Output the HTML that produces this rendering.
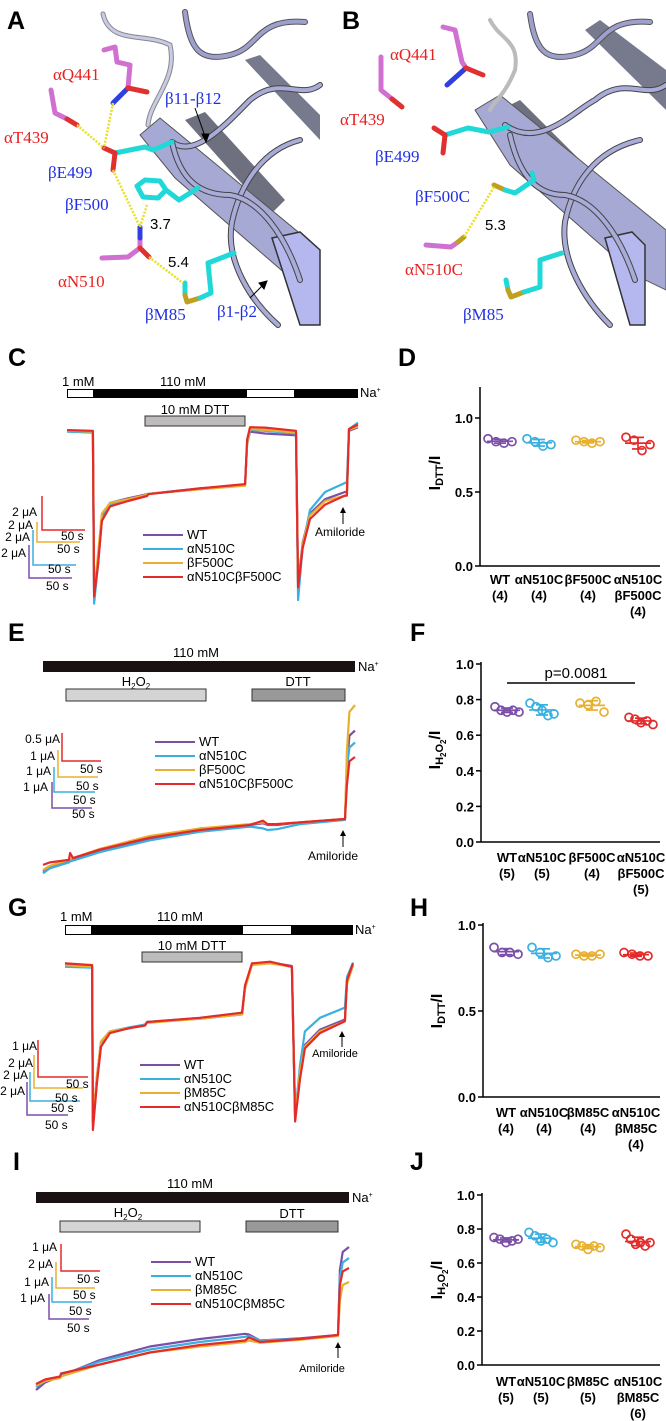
<!DOCTYPE html>
<html><head><meta charset="utf-8"><style>
body{margin:0;background:#fff}
svg{display:block}
text{font-family:"Liberation Sans",Arial,sans-serif}
.ser{font-family:"Liberation Serif",serif;font-size:17px}
.lbl{font-size:13px}
.pl{font-weight:bold;font-size:25px}
.tk{font-weight:bold;font-size:13px}
</style></head><body>
<svg id="fig" width="666" height="1421" viewBox="0 0 666 1421" xmlns="http://www.w3.org/2000/svg">
<!-- Panel A structure -->
<g>
<polygon points="185,120 205,112 285,200 270,215" fill="#6e7080"/>
<polygon points="245,60 260,55 320,115 320,140" fill="#777a8c"/>
<polygon points="140,135 160,118 320,250 320,295 295,282 175,178" fill="#a6a9d4" stroke="#555" stroke-width="1"/>
<polygon points="272,238 300,232 320,250 320,325 300,325" fill="#b5b8ee" stroke="#333" stroke-width="1.5"/>
<g fill="none" stroke-linecap="round">
<path d="M185 12 C190 50 200 62 230 55 S255 18 305 22" stroke="#555" stroke-width="6"/>
<path d="M185 12 C190 50 200 62 230 55 S255 18 305 22" stroke="#9da0cc" stroke-width="4"/>
<path d="M103 14 C110 45 145 32 170 45 C178 80 150 100 148 125" stroke="#888" stroke-width="5"/>
<path d="M103 14 C110 45 145 32 170 45 C178 80 150 100 148 125" stroke="#c8cae6" stroke-width="3"/>
<path d="M172 142 C195 160 230 120 250 100 C280 75 300 100 320 85" stroke="#444" stroke-width="6"/>
<path d="M172 142 C195 160 230 120 250 100 C280 75 300 100 320 85" stroke="#a9abd8" stroke-width="4"/>
<path d="M278 325 C250 300 225 260 232 222 C240 185 262 150 300 140" stroke="#444" stroke-width="6"/>
<path d="M278 325 C250 300 225 260 232 222 C240 185 262 150 300 140" stroke="#a9abd8" stroke-width="4"/>
<path d="M172 142 C180 180 200 195 230 195 C260 200 285 235 300 280" stroke="#444" stroke-width="6"/>
<path d="M172 142 C180 180 200 195 230 195 C260 200 285 235 300 280" stroke="#a9abd8" stroke-width="4"/>
</g>
<g fill="none" stroke-linecap="round" stroke-linejoin="round" stroke-width="5">
<polyline points="104,50 115,47 117,62 130,65 128,88" stroke="#d070d0"/>
<line x1="128" y1="88" x2="113" y2="103" stroke="#3040e0"/>
<line x1="128" y1="88" x2="147" y2="92" stroke="#e03030"/>
<polyline points="51,90 55,113 67,119" stroke="#d070d0"/>
<line x1="67" y1="119" x2="77" y2="125" stroke="#e03030"/>
<polyline points="115,153 145,147 153,150 172,142" stroke="#20d8d8"/>
<line x1="115" y1="153" x2="104" y2="148" stroke="#e03030"/>
<line x1="115" y1="153" x2="113" y2="170" stroke="#e03030"/>
<polygon points="137,186 145,180 160,181 166,190 158,198 143,197" stroke="#20d8d8"/>
<polyline points="166,190 179,200 198,188" stroke="#20d8d8"/>
<polyline points="102,258 128,257 140,248 140,238" stroke="#d070d0"/>
<line x1="140" y1="238" x2="140" y2="227" stroke="#3040e0"/>
<line x1="140" y1="248" x2="149" y2="257" stroke="#e03030"/>
<polyline points="185,283 185,295" stroke="#20d8d8"/>
<polyline points="185,295 187,302 200,298" stroke="#c0a020"/>
<polyline points="200,298 211,293 208,263 234,253" stroke="#20d8d8"/>
</g>
<g stroke="#e8e020" stroke-width="2.5" stroke-dasharray="2,1.5">
<line x1="113" y1="103" x2="104" y2="148"/><line x1="77" y1="125" x2="104" y2="148"/>
<line x1="113" y1="170" x2="140" y2="227"/><line x1="147" y1="205" x2="140" y2="227"/>
<line x1="149" y1="257" x2="183" y2="283"/>
</g>
<g stroke="#000" stroke-width="1">
<line x1="195" y1="108" x2="206" y2="139"/><polygon points="206,142 202,134 209,134" fill="#000"/>
<line x1="250" y1="298" x2="265" y2="283"/><polygon points="267,281 259,283 264,289" fill="#000"/>
</g>
<text x="7" y="29" class="pl">A</text>
<text x="53" y="80" class="ser" fill="#e82020">αQ441</text>
<text x="4" y="143" class="ser" fill="#e82020">αT439</text>
<text x="48" y="178" class="ser" fill="#2030e0">βE499</text>
<text x="65" y="210" class="ser" fill="#2030e0">βF500</text>
<text x="150" y="229" fill="#000" style="font-size:15px">3.7</text>
<text x="58" y="287" class="ser" fill="#e82020">αN510</text>
<text x="168" y="267" fill="#000" style="font-size:15px">5.4</text>
<text x="145" y="320" class="ser" fill="#2030e0">βM85</text>
<text x="217" y="317" class="ser" fill="#2030e0">β1-β2</text>
<text x="165" y="104" class="ser" fill="#2030e0">β11-β12</text>
</g>
<!-- Panel B structure -->
<g>
<polygon points="500,110 520,100 610,190 590,205" fill="#6e7080"/>
<polygon points="585,30 600,20 666,70 666,110" fill="#777a8c"/>
<polygon points="475,110 500,95 666,230 666,290 635,275 510,165" fill="#a6a9d4" stroke="#555" stroke-width="1"/>
<polygon points="605,238 632,232 645,245 645,325 630,325" fill="#b5b8ee" stroke="#333" stroke-width="1.5"/>
<g fill="none" stroke-linecap="round">
<path d="M530 14 C535 50 545 62 575 55 S600 18 650 22" stroke="#555" stroke-width="6"/>
<path d="M530 14 C535 50 545 62 575 55 S600 18 650 22" stroke="#9da0cc" stroke-width="4"/>
<path d="M505 125 C540 150 575 110 595 100 C625 75 645 100 666 85" stroke="#444" stroke-width="6"/>
<path d="M505 125 C540 150 575 110 595 100 C625 75 645 100 666 85" stroke="#a9abd8" stroke-width="4"/>
<path d="M610 325 C585 300 560 260 565 222 C572 185 595 150 640 140" stroke="#444" stroke-width="6"/>
<path d="M610 325 C585 300 560 260 565 222 C572 185 595 150 640 140" stroke="#a9abd8" stroke-width="4"/>
<path d="M510 135 C520 180 540 195 565 195 C595 200 620 235 635 280" stroke="#444" stroke-width="6"/>
<path d="M510 135 C520 180 540 195 565 195 C595 200 620 235 635 280" stroke="#a9abd8" stroke-width="4"/>
<path d="M490 20 C500 40 520 40 515 70 C505 95 495 100 490 110" stroke="#bbb" stroke-width="4"/>
</g>
<g fill="none" stroke-linecap="round" stroke-linejoin="round" stroke-width="5">
<polyline points="443,27 455,30 462,62 466,68" stroke="#d070d0"/>
<line x1="466" y1="68" x2="447" y2="85" stroke="#3040e0"/>
<line x1="466" y1="68" x2="483" y2="75" stroke="#e03030"/>
<polyline points="381,57 381,90 392,99" stroke="#d070d0"/>
<line x1="392" y1="99" x2="402" y2="107" stroke="#e03030"/>
<polyline points="445,135 468,128 489,132 508,127" stroke="#20d8d8"/>
<line x1="445" y1="135" x2="434" y2="128" stroke="#e03030"/>
<line x1="445" y1="135" x2="443" y2="153" stroke="#e03030"/>
<polyline points="494,185 505,190" stroke="#c0a020"/>
<polyline points="505,190 515,193 534,180 532,173" stroke="#20d8d8"/>
<polyline points="426,245 451,247 458,242" stroke="#d070d0"/>
<line x1="458" y1="242" x2="464" y2="237" stroke="#c0a020"/>
<polyline points="506,280 508,290" stroke="#20d8d8"/>
<polyline points="508,290 511,297 524,292" stroke="#c0a020"/>
<polyline points="524,292 540,287 540,260 562,253" stroke="#20d8d8"/>
</g>
<line x1="494" y1="187" x2="464" y2="237" stroke="#e8e020" stroke-width="2.5" stroke-dasharray="2,1.5"/>
<text x="342" y="29" class="pl">B</text>
<text x="390" y="60" class="ser" fill="#e82020">αQ441</text>
<text x="340" y="125" class="ser" fill="#e82020">αT439</text>
<text x="375" y="162" class="ser" fill="#2030e0">βE499</text>
<text x="415" y="202" class="ser" fill="#2030e0">βF500C</text>
<text x="485" y="230" fill="#000" style="font-size:15px">5.3</text>
<text x="405" y="275" class="ser" fill="#e82020">αN510C</text>
<text x="463" y="320" class="ser" fill="#2030e0">βM85</text>
</g>

<!-- Panel C static -->
<g>
<text x="8" y="366" class="pl">C</text>
<rect x="67" y="389" width="291" height="9" fill="#000"/>
<rect x="68" y="390" width="25" height="7" fill="#fff"/>
<rect x="247" y="390" width="47" height="7" fill="#fff"/>
<text x="62" y="386" class="lbl">1 mM</text>
<text x="160" y="386" class="lbl">110 mM</text>
<text x="360" y="397" class="lbl">Na<tspan font-size="7" dy="-5">+</tspan></text>
<rect x="145" y="416" width="100" height="10" fill="#bdbbbb" stroke="#333"/>
<text x="195" y="414" class="lbl" text-anchor="middle">10 mM DTT</text>
<g stroke-width="1.5" fill="none">
<polyline points="42,496 42,530 85,530" stroke="#e52a2a"/><polyline points="37,522 37,542 80,542" stroke="#e8b030"/>
<polyline points="33,530 33,565 76,565" stroke="#3ab0e0"/><polyline points="29,545 29,578 72,578" stroke="#7b4fa8"/>
</g>
<g font-size="12">
<text x="37" y="516" text-anchor="end">2 μA</text><text x="33" y="529" text-anchor="end">2 μA</text>
<text x="30" y="541" text-anchor="end">2 μA</text><text x="26" y="557" text-anchor="end">2 μA</text>
<text x="61" y="540">50 s</text><text x="57" y="553">50 s</text><text x="48" y="573">50 s</text><text x="46" y="590">50 s</text>
</g>
<g><line x1="343" y1="524" x2="343" y2="510" stroke="#000"/><polygon points="343,507 340,513 346,513"/><text x="340" y="536" font-size="12" text-anchor="middle">Amiloride</text></g>
</g>
<!-- Panel E static -->
<g>
<text x="8" y="641" class="pl">E</text>
<rect x="43" y="661" width="312" height="11" fill="#1a1212"/>
<text x="196" y="657" class="lbl" text-anchor="middle">110 mM</text>
<text x="358" y="671" class="lbl">Na<tspan font-size="7" dy="-5">+</tspan></text>
<rect x="66" y="689" width="140" height="12" fill="#d4d4d4" stroke="#333"/>
<rect x="252" y="689" width="93" height="12" fill="#999" stroke="#333"/>
<text x="136" y="686" class="lbl" text-anchor="middle">H<tspan font-size="8" dy="3">2</tspan><tspan dy="-3">O</tspan><tspan font-size="8" dy="3">2</tspan></text>
<text x="298" y="686" class="lbl" text-anchor="middle">DTT</text>
<g stroke-width="1.5" fill="none">
<polyline points="62,733 62,761 101,761" stroke="#e52a2a"/><polyline points="58,750 58,777 98,777" stroke="#e8b030"/>
<polyline points="54,767 54,792 95,792" stroke="#3ab0e0"/><polyline points="52,782 52,808 92,808" stroke="#7b4fa8"/>
</g>
<g font-size="12">
<text x="60" y="743" text-anchor="end">0.5 μA</text><text x="55" y="760" text-anchor="end">1 μA</text>
<text x="51" y="775" text-anchor="end">1 μA</text><text x="48" y="791" text-anchor="end">1 μA</text>
<text x="80" y="773">50 s</text><text x="76" y="790">50 s</text><text x="73" y="804">50 s</text><text x="72" y="818">50 s</text>
</g>
<g><line x1="343" y1="847" x2="343" y2="833" stroke="#000"/><polygon points="343,830 340,836 346,836"/><text x="333" y="860" font-size="12" text-anchor="middle">Amiloride</text></g>
</g>
<!-- Panel G static -->
<g>
<text x="8" y="916" class="pl">G</text>
<rect x="65" y="925" width="288" height="10" fill="#000"/>
<rect x="66" y="926" width="25" height="8" fill="#fff"/>
<rect x="243" y="926" width="48" height="8" fill="#fff"/>
<text x="60" y="921" class="lbl">1 mM</text>
<text x="157" y="921" class="lbl">110 mM</text>
<text x="355" y="934" class="lbl">Na<tspan font-size="7" dy="-5">+</tspan></text>
<rect x="142" y="952" width="100" height="10" fill="#bdbbbb" stroke="#333"/>
<text x="192" y="950" class="lbl" text-anchor="middle">10 mM DTT</text>
<g stroke-width="1.5" fill="none">
<polyline points="38,1040 38,1077 88,1077" stroke="#e52a2a"/><polyline points="34,1055 34,1088 83,1088" stroke="#e8b030"/>
<polyline points="30,1072 30,1101 80,1101" stroke="#3ab0e0"/><polyline points="27,1082 27,1115 68,1115" stroke="#7b4fa8"/>
</g>
<g font-size="12">
<text x="37" y="1050" text-anchor="end">1 μA</text><text x="33" y="1067" text-anchor="end">2 μA</text>
<text x="28" y="1079" text-anchor="end">2 μA</text><text x="25" y="1095" text-anchor="end">2 μA</text>
<text x="66" y="1088">50 s</text><text x="55" y="1102">50 s</text><text x="51" y="1112">50 s</text><text x="45" y="1129">50 s</text>
</g>
<g><line x1="342" y1="1047" x2="342" y2="1034" stroke="#000"/><polygon points="342,1031 339,1037 345,1037"/><text x="335" y="1057" font-size="11" text-anchor="middle">Amiloride</text></g>
</g>
<!-- Panel I static -->
<g>
<text x="13" y="1170" class="pl">I</text>
<rect x="36" y="1192" width="313" height="11" fill="#1a1212"/>
<text x="190" y="1188" class="lbl" text-anchor="middle">110 mM</text>
<text x="352" y="1202" class="lbl">Na<tspan font-size="7" dy="-5">+</tspan></text>
<rect x="60" y="1221" width="140" height="11" fill="#d4d4d4" stroke="#333"/>
<rect x="246" y="1221" width="92" height="11" fill="#999" stroke="#333"/>
<text x="128" y="1217" class="lbl" text-anchor="middle">H<tspan font-size="8" dy="3">2</tspan><tspan dy="-3">O</tspan><tspan font-size="8" dy="3">2</tspan></text>
<text x="292" y="1218" class="lbl" text-anchor="middle">DTT</text>
<g stroke-width="1.5" fill="none">
<polyline points="61,1244 61,1271 100,1271" stroke="#e52a2a"/><polyline points="56,1262 56,1288 95,1288" stroke="#e8b030"/>
<polyline points="52,1277 52,1302 92,1302" stroke="#3ab0e0"/><polyline points="49,1294 49,1319 89,1319" stroke="#7b4fa8"/>
</g>
<g font-size="12">
<text x="57" y="1251" text-anchor="end">1 μA</text><text x="53" y="1268" text-anchor="end">2 μA</text>
<text x="49" y="1286" text-anchor="end">1 μA</text><text x="45" y="1302" text-anchor="end">1 μA</text>
<text x="77" y="1283">50 s</text><text x="73" y="1299">50 s</text><text x="69" y="1315">50 s</text><text x="67" y="1332">50 s</text>
</g>
<g><line x1="338" y1="1358" x2="338" y2="1345" stroke="#000"/><polygon points="338,1342 335,1348 341,1348"/><text x="322" y="1372" font-size="11" text-anchor="middle">Amiloride</text></g>
</g>
<text x="398" y="366" class="pl">D</text>
<text x="410" y="641" class="pl">F</text>
<text x="410" y="916" class="pl">H</text>
<text x="410" y="1170" class="pl">J</text>
<g id="dyn"></g>
</svg>
<script>
// ===== Trace data (time in % of sweep, current as fraction of panel range) =====
const T_C=[0,8.9,9.3,10.7,12,14.8,21,27.5,28,45.7,61.2,61.9,62.9,68,78.7,79.4,81,83.5,88.7,95.5,96.2,96.9,100];
const C_WT=[.94,.935,.04,.24,.47,.54,.565,.588,.59,.62,.638,.87,.935,.925,.915,.09,.32,.48,.56,.6,.6,.94,.96];
const C_N510=[.935,.93,-.02,.2,.45,.53,.556,.583,.59,.615,.64,.86,.945,.94,.925,0,.3,.5,.6,.65,.655,.95,.985];
const C_F500=[.94,.935,.03,.26,.48,.54,.56,.585,.59,.615,.635,.87,.95,.945,.93,.07,.31,.47,.55,.58,.58,.945,.965];
const C_DBL=[.944,.94,.02,.2,.44,.52,.55,.578,.588,.62,.644,.89,.96,.958,.94,.07,.29,.45,.53,.58,.58,.95,.975];

const T_E=[0,2.2,8.3,8.7,9.6,18.3,34.3,50.3,66.3,70.5,72,75,82.4,96.8,97.4,98.2,100];
const E_WT=[-.01,.02,.05,.055,.06,.11,.185,.235,.265,.275,.265,.265,.28,.3,.6,.79,.82];
const E_N510=[-.02,.01,.045,.05,.055,.105,.175,.225,.255,.245,.235,.24,.27,.295,.6,.72,.75];
const E_F500=[0,.025,.06,.065,.07,.125,.2,.245,.27,.28,.27,.27,.28,.3,.7,.93,.97];
const E_DBL=[.03,.045,.06,.1,.07,.12,.19,.235,.265,.29,.27,.27,.28,.3,.5,.64,.665];

const T_G=[0,9.4,9.7,11.1,12.5,15.6,22.6,27.8,28.5,46.9,61.5,62.5,64.9,71.2,78.8,79.9,81.6,83.3,88.5,97.2,97.9,100];
const G_WT=[.98,.965,.05,.32,.52,.58,.6,.62,.635,.655,.68,.84,.975,.985,.965,.1,.35,.5,.59,.65,.87,.97];
const G_N510=[.96,.955,.04,.3,.5,.58,.605,.62,.635,.66,.69,.84,.975,.985,.96,.08,.38,.58,.66,.72,.9,.985];
const G_M85=[.97,.96,.05,.32,.52,.58,.6,.615,.63,.655,.68,.83,.97,.98,.96,.08,.34,.49,.58,.64,.86,.97];
const G_DBL=[.98,.97,0,.28,.49,.57,.6,.615,.635,.66,.69,.85,.98,.99,.96,.05,.3,.48,.57,.64,.88,.98];

const T_I=[0,2.9,7.7,8,20.4,36.4,52.4,66.8,68,71.6,84.3,96.5,97.1,98,100];
const I_WT=[0,.05,.09,.095,.2,.29,.34,.375,.37,.33,.345,.367,.8,.92,.953];
const I_N510=[.02,.06,.09,.1,.19,.27,.32,.355,.36,.33,.34,.365,.75,.85,.88];
const I_M85=[.03,.06,.08,.09,.17,.25,.29,.32,.33,.315,.335,.36,.6,.7,.72];
const I_DBL=[.04,.07,.09,.11,.17,.25,.3,.33,.35,.32,.34,.367,.7,.79,.813];

// ===== Scatter data =====
const D_CATS=["WT","αN510C","βF500C","αN510C βF500C"];
const D_N=["(4)","(4)","(4)","(4)"];
const D_WT=[.86,.84,.83,.84], D_N510=[.86,.84,.81,.82], D_F500=[.85,.84,.83,.84], D_DBL=[.87,.85,.78,.82];
const D_TICKS=["0.0","0.5","1.0"];
const F_CATS=["WT","αN510C","βF500C","αN510C βF500C"];
const F_N=["(5)","(5)","(4)","(5)"];
const F_WT=[.76,.74,.73,.74,.73], F_N510=[.78,.76,.74,.71,.72], F_F500=[.78,.77,.79,.73], F_DBL=[.70,.69,.67,.68,.66];
const F_TICKS=["0.0","0.2","0.4","0.6","0.8","1.0"];
const H_CATS=["WT","αN510C","βM85C","αN510C βM85C"];
const H_N=["(4)","(4)","(4)","(4)"];
const H_WT=[.87,.84,.84,.83], H_N510=[.87,.84,.81,.82], H_M85=[.83,.82,.82,.83], H_DBL=[.84,.83,.82,.82];
const H_TICKS=["0.0","0.5","1.0"];
const J_CATS=["WT","αN510C","βM85C","αN510C βM85C"];
const J_N=["(5)","(5)","(5)","(6)"];
const J_WT=[.75,.74,.72,.73,.74], J_N510=[.78,.76,.73,.74,.72], J_M85=[.71,.70,.68,.70,.69], J_DBL=[.77,.74,.71,.72,.70,.72];
const J_TICKS=["0.0","0.2","0.4","0.6","0.8","1.0"];

const COLORS=["#7b4fa8","#3ab0e0","#e8b030","#e52a2a"];
const NS="http://www.w3.org/2000/svg";
const root=document.getElementById('dyn');
function mk(tag,nm,inter,attrs,parent){
  const el=document.createElementNS(NS,tag);
  for(const k in attrs) el.setAttribute(k,attrs[k]);
  
  
  (parent||root).appendChild(el);
  return el;
}
function traces(pfx,T,series,x0,x1,yZero,ySpan,legendNames,legX,legY){
  const xs=t=>x0+(x1-x0)*t/100;
  const ys=v=>yZero-v*ySpan;
  series.forEach((vals,si)=>{
    const pts=T.map((t,i)=>xs(t).toFixed(1)+","+ys(vals[i]).toFixed(1)).join(" ");
    mk('polyline',pfx+'-trace-'+si,'false',{points:pts,fill:'none',stroke:COLORS[si],'stroke-width':2.2,'stroke-linejoin':'round'});
  });
  legendNames.forEach((n,i)=>{
    const y=legY+i*14;
    mk('line',pfx+'-legend-swatch','false',{x1:legX,x2:legX+40,y1:y,y2:y,stroke:COLORS[i],'stroke-width':2});
    const t=mk('text',pfx+'-legend-entry','false',{x:legX+44,y:y+4,'font-size':13});
    t.textContent=n;
  });
}
traces('c',T_C,[C_WT,C_N510,C_F500,C_DBL],67,358,600,180,["WT","αN510C","βF500C","αN510CβF500C"],143,535);
traces('e',T_E,[E_WT,E_N510,E_F500,E_DBL],43,355,870,170,["WT","αN510C","βF500C","αN510CβF500C"],155,742);
traces('g',T_G,[G_WT,G_N510,G_M85,G_DBL],65,353,1130,170,["WT","αN510C","βM85C","αN510CβM85C"],140,1065);
traces('i',T_I,[I_WT,I_N510,I_M85,I_DBL],36,349,1390,150,["WT","αN510C","βM85C","αN510CβM85C"],151,1262);

function scatter(pfx,cfg){
  const {ax,yTop,yBot,axTop,xEnd,ticks,cats,ns,groups,cx,labY,ylab}=cfg;
  const tMax=parseFloat(ticks[ticks.length-1]);
  const ys=v=>yBot-(v/tMax)*(yBot-yTop);
  mk('line',pfx+'-y-axis','false',{x1:ax,x2:ax,y1:axTop,y2:yBot,stroke:'#000','stroke-width':1.5});
  mk('line',pfx+'-x-axis','false',{x1:ax,x2:xEnd,y1:yBot,y2:yBot,stroke:'#000','stroke-width':1.5});
  ticks.forEach(tk=>{
    const y=ys(parseFloat(tk));
    mk('line',pfx+'-y-tick','false',{x1:ax-5,x2:ax,y1:y,y2:y,stroke:'#000','stroke-width':1.5});
    const t=mk('text',pfx+'-y-tick-label','false',{x:ax-7,y:y+5,'text-anchor':'end',class:'tk'});
    t.textContent=tk;
  });
  const yl=mk('text',pfx+'-y-axis-title','false',{x:0,y:0,'font-weight':'bold','font-size':16,'text-anchor':'middle',transform:`translate(${ylab[0]},${ylab[1]}) rotate(-90)`});
  yl.innerHTML=ylab[2];
  groups.forEach((vals,gi)=>{
    const c=cx[gi], col=COLORS[gi], n=vals.length;
    const mean=vals.reduce((a,b)=>a+b,0)/n;
    const sd=Math.sqrt(vals.reduce((a,b)=>a+(b-mean)*(b-mean),0)/(n-1));
    vals.forEach((v,i)=>{
      mk('circle',pfx+'-point-'+gi,'false',{cx:c-12+i*(24/Math.max(n-1,1)),cy:ys(v),r:4,fill:'none',stroke:col,'stroke-width':1.7});
    });
    mk('line',pfx+'-mean-'+gi,'false',{x1:c-13,x2:c+13,y1:ys(mean),y2:ys(mean),stroke:col,'stroke-width':1.7});
    mk('line',pfx+'-sd-'+gi,'false',{x1:c,x2:c,y1:ys(mean-sd),y2:ys(mean+sd),stroke:col,'stroke-width':1.7});
    [mean-sd,mean+sd].forEach(v=>mk('line',pfx+'-sd-cap-'+gi,'false',{x1:c-6,x2:c+6,y1:ys(v),y2:ys(v),stroke:col,'stroke-width':1.7}));
    const parts=cats[gi].split(' ');
    const lines=parts.concat([ns[gi]]);
    lines.forEach((s,li)=>{
      const t=mk('text',pfx+'-x-label','false',{x:c,y:labY+li*16,'text-anchor':'middle',class:'tk'});
      t.textContent=s;
    });
  });
}
const yDTT='I<tspan font-size="11" dy="3">DTT</tspan><tspan dy="-3">/I</tspan>';
const yH2O2='I<tspan font-size="11" dy="3">H</tspan><tspan font-size="8" dy="3">2</tspan><tspan font-size="11" dy="-3">O</tspan><tspan font-size="8" dy="3">2</tspan><tspan dy="-6">/I</tspan>';
scatter('d',{ax:480,yTop:418,yBot:566,axTop:387,xEnd:660,ticks:D_TICKS,cats:D_CATS,ns:D_N,groups:[D_WT,D_N510,D_F500,D_DBL],cx:[500,539,588,638],labY:584,ylab:[440,473,yDTT]});
scatter('f',{ax:481,yTop:664,yBot:842,axTop:662,xEnd:660,ticks:F_TICKS,cats:F_CATS,ns:F_N,groups:[F_WT,F_N510,F_F500,F_DBL],cx:[507,542,592,641],labY:862,ylab:[440,750,yH2O2]});
scatter('h',{ax:483,yTop:925,yBot:1097,axTop:923,xEnd:660,ticks:H_TICKS,cats:H_CATS,ns:H_N,groups:[H_WT,H_N510,H_M85,H_DBL],cx:[506,544,588,636],labY:1117,ylab:[442,1011,yDTT]});
scatter('j',{ax:482,yTop:1195,yBot:1365,axTop:1193,xEnd:660,ticks:J_TICKS,cats:J_CATS,ns:J_N,groups:[J_WT,J_N510,J_M85,J_DBL],cx:[506,541,588,638],labY:1386,ylab:[442,1280,yH2O2]});
mk('line','significance-bar','false',{x1:507,x2:635,y1:683,y2:683,stroke:'#000','stroke-width':1.5});
const pv=mk('text','p-value-label','false',{x:576,y:678,'text-anchor':'middle','font-size':15});
pv.textContent='p=0.0081';
</script>
</body></html>
